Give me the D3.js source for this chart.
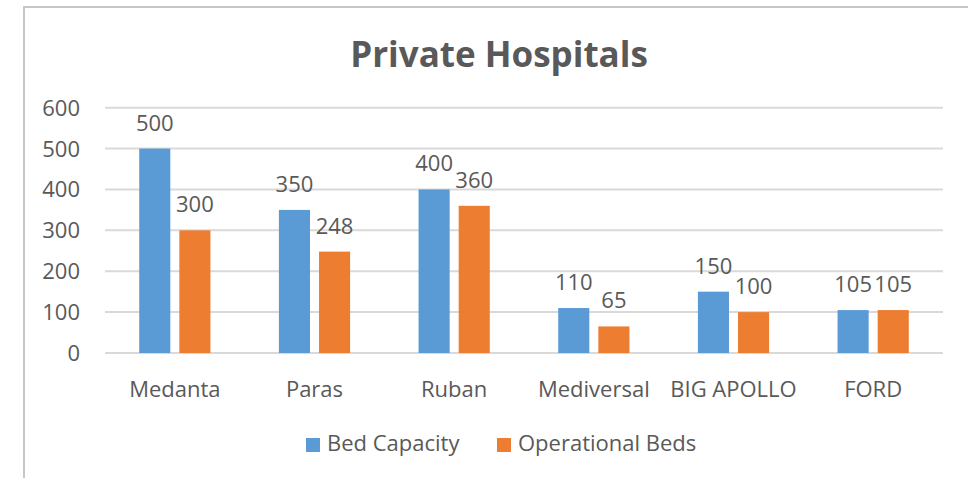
<!DOCTYPE html>
<html lang="en">
<head>
<meta charset="utf-8">
<title>Private Hospitals</title>
<script src="https://cdn.jsdelivr.net/npm/d3@7"></script>
<style>
  body { margin: 0; background: #fff; }
  text { font-family: "Open Sans", "Noto Sans", sans-serif; fill: #595959; }
</style>
</head>
<body>
<div id="chart"></div>
<script>
// data
var hospitals = ["Medanta", "Paras", "Ruban", "Mediversal", "BIG APOLLO", "FORD"];
var series = ["Bed Capacity", "Operational Beds"];
var bedCapacity = [500, 350, 400, 110, 150, 105];
var operationalBeds = [300, 248, 360, 65, 100, 105];
var yTicks = [0, 100, 200, 300, 400, 500, 600];
var colors = ["#5B9BD5", "#ED7D31"];

var width = 968, height = 478;
var plotLeft = 105, plotRight = 943, plotTop = 107.7, plotBottom = 353;

var svg = d3.select("#chart").append("svg")
  .attr("width", width)
  .attr("height", height);

// chart frame
svg.append("rect")
  .attr("x", 24).attr("y", 7)
  .attr("width", 960).attr("height", 490)
  .attr("fill", "none")
  .attr("stroke", "#c6c6c6")
  .attr("stroke-width", 2);

svg.append("text")
  .attr("x", 499).attr("y", 67)
  .attr("text-anchor", "middle")
  .attr("font-size", "35px")
  .attr("font-weight", "bold")
  .text("Private Hospitals");

var y = d3.scaleLinear().domain([0, 600]).range([plotBottom, plotTop]);

var x0 = d3.scaleBand().domain(hospitals).range([plotLeft, plotRight])
  .paddingInner(0.49).paddingOuter(0.245);
var x1 = d3.scaleBand().domain(series).range([0, x0.bandwidth()])
  .paddingInner(0.225);

// gridlines
svg.append("g").selectAll("line")
  .data(yTicks)
  .enter().append("line")
  .attr("x1", plotLeft).attr("x2", plotRight)
  .attr("y1", function(d) { return y(d); })
  .attr("y2", function(d) { return y(d); })
  .attr("stroke", "#d9d9d9")
  .attr("stroke-width", 2);

// y tick labels
svg.append("g").selectAll("text")
  .data(yTicks)
  .enter().append("text")
  .attr("x", 80)
  .attr("y", function(d) { return y(d); })
  .attr("dy", "0.36em")
  .attr("text-anchor", "end")
  .attr("font-size", "22px")
  .text(function(d) { return d; });

var rows = hospitals.map(function(h, i) {
  return { name: h, values: [bedCapacity[i], operationalBeds[i]] };
});

var groups = svg.append("g").selectAll("g")
  .data(rows)
  .enter().append("g")
  .attr("transform", function(d) { return "translate(" + x0(d.name) + ",0)"; });

groups.selectAll("rect")
  .data(function(d) { return d.values.map(function(v, j) { return { s: series[j], v: v, j: j }; }); })
  .enter().append("rect")
  .attr("x", function(d) { return x1(d.s); })
  .attr("y", function(d) { return y(d.v); })
  .attr("width", x1.bandwidth())
  .attr("height", function(d) { return y(0) - y(d.v); })
  .attr("fill", function(d) { return colors[d.j]; });

groups.selectAll("text")
  .data(function(d) { return d.values.map(function(v, j) { return { s: series[j], v: v }; }); })
  .enter().append("text")
  .attr("x", function(d) { return x1(d.s) + x1.bandwidth() / 2; })
  .attr("y", function(d) { return y(d.v) - 18; })
  .attr("text-anchor", "middle")
  .attr("font-size", "22px")
  .text(function(d) { return d.v; });

// category labels
svg.append("g").selectAll("text")
  .data(hospitals)
  .enter().append("text")
  .attr("x", function(d) { return x0(d) + x0.bandwidth() / 2; })
  .attr("y", 397)
  .attr("text-anchor", "middle")
  .attr("font-size", "22px")
  .text(function(d) { return d; });

// legend
var legend = svg.append("g");
var legendX = [306, 497];
series.forEach(function(s, i) {
  legend.append("rect")
    .attr("x", legendX[i]).attr("y", 438)
    .attr("width", 14).attr("height", 14)
    .attr("fill", colors[i]);
  legend.append("text")
    .attr("x", legendX[i] + 21).attr("y", 451)
    .attr("font-size", "22px")
    .text(s);
});
</script>
</body>
</html>
